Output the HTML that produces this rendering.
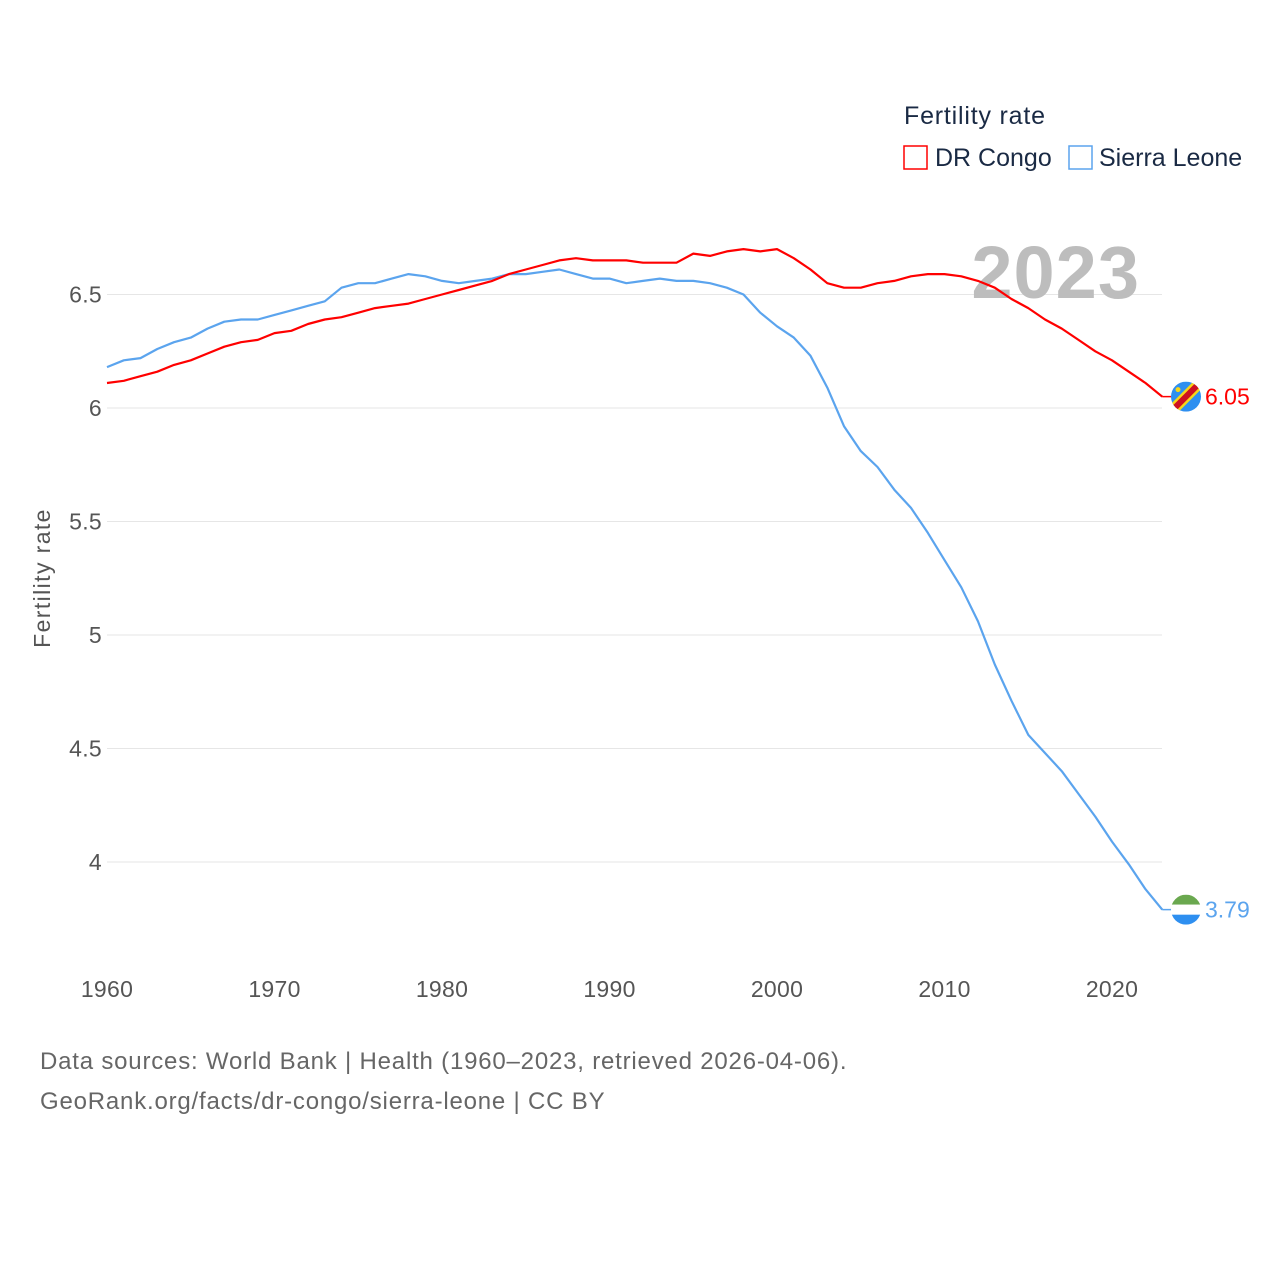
<!DOCTYPE html>
<html><head><meta charset="utf-8">
<style>
html,body{margin:0;padding:0;background:#fff;}
body{width:1280px;height:1280px;overflow:hidden;font-family:"Liberation Sans",sans-serif;}
text{font-family:"Liberation Sans",sans-serif;}
</style></head>
<body>
<svg id="chart" width="1280" height="1280" viewBox="0 0 1280 1280" xmlns="http://www.w3.org/2000/svg">
  <g id="grid"></g>
  <g id="yticks"></g>
  <g id="xticks"></g>
  <text x="1140" y="298" text-anchor="end" font-size="74" font-weight="bold" fill="#bdbdbd" letter-spacing="1">2023</text>
  <g id="series"></g>
  <text transform="translate(50,578) rotate(-90)" text-anchor="middle" font-size="23" fill="#555" letter-spacing="1.4">Fertility rate</text>
  <g>
    <text x="904" y="124" font-size="25" fill="#1a2a44" letter-spacing="0.8">Fertility rate</text>
    <g>
      <rect x="904" y="146" width="23" height="23" fill="none" stroke="#ff0000" stroke-width="1.5"/>
      <text x="935" y="166" font-size="25" fill="#1a2a44">DR Congo</text>
    </g>
    <g>
      <rect x="1069" y="146" width="23" height="23" fill="none" stroke="#5ba4ee" stroke-width="1.5"/>
      <text x="1099" y="166" font-size="25" fill="#1a2a44">Sierra Leone</text>
    </g>
  </g>
  <g id="ends"></g>
  <text x="40" y="1069" font-size="24" fill="#666" letter-spacing="0.8">Data sources: World Bank | Health (1960–2023, retrieved 2026-04-06).</text>
  <text x="40" y="1109" font-size="24" fill="#666" letter-spacing="0.8">GeoRank.org/facts/dr-congo/sierra-leone | CC BY</text>
</svg>
<script>
const years = [];
for (let y = 1960; y <= 2023; y++) years.push(y);
const drCongo = [6.11,6.12,6.14,6.16,6.19,6.21,6.24,6.27,6.29,6.30,
6.33,6.34,6.37,6.39,6.40,6.42,6.44,6.45,6.46,6.48,
6.50,6.52,6.54,6.56,6.59,6.61,6.63,6.65,6.66,6.65,
6.65,6.65,6.64,6.64,6.64,6.68,6.67,6.69,6.70,6.69,
6.70,6.66,6.61,6.55,6.53,6.53,6.55,6.56,6.58,6.59,
6.59,6.58,6.56,6.53,6.48,6.44,6.39,6.35,6.30,6.25,
6.21,6.16,6.11,6.05];
const sierraLeone = [6.18,6.21,6.22,6.26,6.29,6.31,6.35,6.38,6.39,6.39,
6.41,6.43,6.45,6.47,6.53,6.55,6.55,6.57,6.59,6.58,
6.56,6.55,6.56,6.57,6.59,6.59,6.60,6.61,6.59,6.57,
6.57,6.55,6.56,6.57,6.56,6.56,6.55,6.53,6.50,6.42,
6.36,6.31,6.23,6.09,5.92,5.81,5.74,5.64,5.56,5.45,
5.33,5.21,5.06,4.87,4.71,4.56,4.48,4.40,4.30,4.20,
4.09,3.99,3.88,3.79];
const yTicks = [4,4.5,5,5.5,6,6.5];
const yTickLabels = ["4","4.5","5","5.5","6","6.5"];
const xTicks = [1960,1970,1980,1990,2000,2010,2020];

const NS = "http://www.w3.org/2000/svg";
function xs(yr){ return 107 + (yr-1960)*(1005/60); }
function ys(v){ return 408 - (v-6)*227; }
function mk(tag, attrs, parent){ const e=document.createElementNS(NS,tag); for(const k in attrs) e.setAttribute(k,attrs[k]); parent.appendChild(e); return e; }

const grid=document.getElementById('grid'), yt=document.getElementById('yticks'), xt=document.getElementById('xticks');
yTicks.forEach((v,i)=>{
  const l=mk('line',{x1:107,x2:1162,y1:ys(v),y2:ys(v),stroke:'#e6e6e6','stroke-width':1},grid);
  
  
  const t=mk('text',{x:102,y:ys(v)+8,'text-anchor':'end','font-size':23,fill:'#555','letter-spacing':0.3},yt);
  t.textContent=yTickLabels[i];
  
  
});
xTicks.forEach(v=>{
  const t=mk('text',{x:xs(v),y:997,'text-anchor':'middle','font-size':23,fill:'#555','letter-spacing':0.3},xt);
  t.textContent=String(v);
  
  
});
const ser=document.getElementById('series');
function line(vals,color,name){
  const d=vals.map((v,i)=>(i?'L':'M')+xs(years[i]).toFixed(1)+','+ys(v).toFixed(1)).join(' ');
  const p=mk('path',{d:d,fill:'none',stroke:color,'stroke-width':2.2,'stroke-linejoin':'round'},ser);
  
  
}
line(sierraLeone,'#5ba4ee','line-sierra-leone');
line(drCongo,'#ff0000','line-dr-congo');

const ends=document.getElementById('ends');
const lastYr=years[years.length-1];
const dv=drCongo[drCongo.length-1], dy=ys(dv);
mk('line',{x1:xs(lastYr),x2:1186,y1:dy,y2:dy,stroke:'#ff0000','stroke-width':1.5},ends);
const g1=mk('g',{},ends);


const cp1=mk('clipPath',{id:'c1'},g1);
mk('circle',{cx:1186,cy:dy,r:15},cp1);
const gg=mk('g',{'clip-path':'url(#c1)'},g1);
mk('rect',{x:1171,y:dy-15,width:30,height:30,fill:'#2e8ff0'},gg);
mk('line',{x1:1168,y1:dy+18,x2:1204,y2:dy-18,stroke:'#f7d618','stroke-width':11},gg);
mk('line',{x1:1168,y1:dy+18,x2:1204,y2:dy-18,stroke:'#ce1021','stroke-width':6},gg);
mk('circle',{cx:1178,cy:dy-7,r:2.5,fill:'#f7d618'},gg);
const t1=mk('text',{x:1205,y:dy+8,'font-size':23,fill:'#ff0000'},ends);
t1.textContent=dv.toFixed(2);


const sv=sierraLeone[sierraLeone.length-1], sy=ys(sv);
mk('line',{x1:xs(lastYr),x2:1186,y1:sy,y2:sy,stroke:'#5ba4ee','stroke-width':1.5},ends);
const g2=mk('g',{},ends);


const cp2=mk('clipPath',{id:'c2'},g2);
mk('circle',{cx:1186,cy:sy,r:15},cp2);
const g2c=mk('g',{'clip-path':'url(#c2)'},g2);
mk('rect',{x:1171,y:sy-15,width:30,height:10,fill:'#6aa84f'},g2c);
mk('rect',{x:1171,y:sy-5,width:30,height:10,fill:'#ffffff'},g2c);
mk('rect',{x:1171,y:sy+5,width:30,height:10,fill:'#2e8ff0'},g2c);
const t2=mk('text',{x:1205,y:sy+8,'font-size':23,fill:'#5ba4ee'},ends);
t2.textContent=sv.toFixed(2);


</script>
</body></html>
